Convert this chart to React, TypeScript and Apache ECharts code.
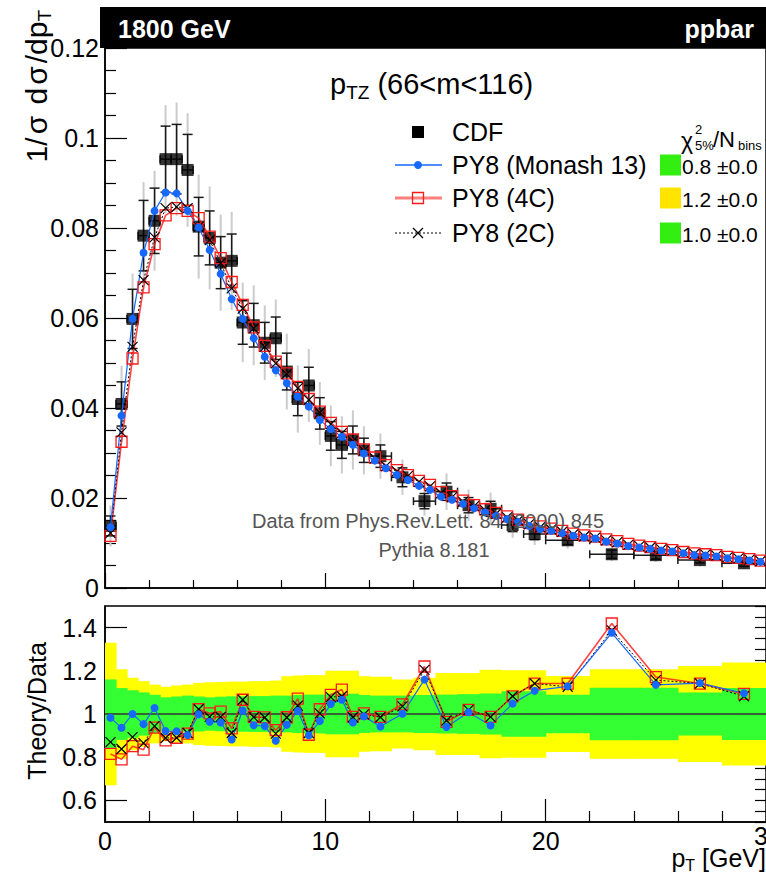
import React, { useEffect, useRef } from "react";
import * as echarts from "echarts";

const FF = "'Liberation Sans', Arial, Helvetica, sans-serif";

// CDF data binning (GeV)
const dataBinEdges = [
  0, 0.5, 1, 1.5, 2, 2.5, 3, 3.5, 4, 4.5, 5, 5.5, 6, 6.5, 7, 7.5, 8, 8.5, 9, 9.5, 10, 10.5, 11, 11.5, 12,
  13, 14, 15, 16, 17, 18, 19, 20, 22, 24, 26, 28, 30,
];
// CDF 1/sigma dsigma/dpT
const cdfValues = [
  0.0138, 0.0409, 0.0598, 0.0783, 0.0816, 0.0953, 0.0953, 0.0929, 0.0803, 0.0778, 0.0723, 0.0727,
  0.059, 0.0584, 0.0545, 0.0555, 0.0481, 0.042, 0.045, 0.0388, 0.0338, 0.0318, 0.0329, 0.0306,
  0.0293, 0.0246, 0.0193, 0.0214, 0.0184, 0.0176, 0.014, 0.012,
  0.0106, 0.0075, 0.0073, 0.0062, 0.0055,
];
// relative uncertainty bands (half widths) per data bin
const greenBand = [
  0.16, 0.12, 0.11, 0.1, 0.089, 0.077, 0.081, 0.085, 0.081, 0.077, 0.08, 0.082,
  0.082, 0.083, 0.083, 0.085, 0.085, 0.088, 0.09, 0.09, 0.094, 0.094, 0.094, 0.088,
  0.085, 0.085, 0.088, 0.09, 0.092, 0.095, 0.105, 0.105,
  0.089, 0.121, 0.121, 0.1, 0.12,
];
const yellowBand = [
  0.33, 0.207, 0.168, 0.152, 0.136, 0.126, 0.132, 0.136, 0.144, 0.147, 0.148, 0.15,
  0.15, 0.152, 0.152, 0.155, 0.175, 0.178, 0.18, 0.18, 0.2, 0.2, 0.2, 0.175,
  0.172, 0.16, 0.168, 0.19, 0.19, 0.205, 0.202, 0.202,
  0.176, 0.207, 0.207, 0.222, 0.238,
];

// MC binning: 0.5 GeV bins from 0 to 30
const mcBinWidth = 0.5;
const mcBinCount = 60;
const monashValues = [
  0.0135, 0.0383, 0.0598, 0.0745, 0.0838, 0.0879, 0.0877, 0.0838, 0.0801, 0.0751,
  0.0698, 0.0642, 0.0598, 0.0555, 0.0514, 0.0484, 0.0455, 0.0425, 0.0403, 0.0373,
  0.0353, 0.0336, 0.0318, 0.0299, 0.0283, 0.0266, 0.0251, 0.024, 0.0227, 0.0218,
  0.0203, 0.0196, 0.0187, 0.0177, 0.0168, 0.016, 0.0153, 0.0147, 0.0138, 0.0131,
  0.0127, 0.0122, 0.0116, 0.0112, 0.011, 0.0103, 0.0099, 0.0093, 0.009, 0.0087,
  0.0083, 0.0081, 0.0077, 0.0073, 0.0072, 0.007, 0.0066, 0.0064, 0.0061, 0.0058,
];
const tune4CValues = [
  0.0116, 0.0325, 0.051, 0.0668, 0.0764, 0.0828, 0.0844, 0.0838, 0.0822, 0.0781,
  0.0733, 0.068, 0.0629, 0.0579, 0.0538, 0.0503, 0.0477, 0.0447, 0.042, 0.0392,
  0.0367, 0.0347, 0.033, 0.0308, 0.029, 0.0273, 0.0262, 0.0251, 0.0238, 0.0229,
  0.0213, 0.0204, 0.0194, 0.0184, 0.0175, 0.0167, 0.0159, 0.0152, 0.0144, 0.0137,
  0.0132, 0.0127, 0.0121, 0.0117, 0.0114, 0.0108, 0.0104, 0.0098, 0.0094, 0.0091,
  0.0087, 0.0084, 0.008, 0.0077, 0.0075, 0.0073, 0.0069, 0.0067, 0.0064, 0.0061,
];
const tune2CValues = [
  0.0122, 0.0346, 0.0536, 0.0684, 0.0779, 0.0844, 0.0847, 0.0844, 0.0803, 0.0773,
  0.0722, 0.0666, 0.0621, 0.0577, 0.0536, 0.0499, 0.0476, 0.0444, 0.0418, 0.039,
  0.0364, 0.0344, 0.0327, 0.0306, 0.0288, 0.0271, 0.0259, 0.0249, 0.0236, 0.0226,
  0.0211, 0.0202, 0.0192, 0.0182, 0.0173, 0.0165, 0.0157, 0.015, 0.0142, 0.0135,
  0.013, 0.0125, 0.0119, 0.0115, 0.0112, 0.0106, 0.0102, 0.0096, 0.0093, 0.009,
  0.0086, 0.0083, 0.0079, 0.0076, 0.0074, 0.0072, 0.0068, 0.0066, 0.0063, 0.006,
];

// Theory / Data per data bin
const ratioMonash = [
  0.983, 0.936, 1.0, 0.953, 1.028, 0.921, 0.92, 0.903, 0.999, 0.964, 0.961, 0.882,
  1.016, 0.948, 0.944, 0.876, 0.95, 1.014, 0.901, 0.968, 1.046, 1.066, 0.961, 0.989,
  0.942, 1.001, 1.159, 0.94, 1.008, 0.947, 1.048, 1.108,
  1.128, 1.376, 1.135, 1.143, 1.096,
];
const ratio4C = [
  0.815, 0.79, 0.851, 0.835, 0.937, 0.878, 0.89, 0.909, 1.022, 1.003, 1.011, 0.933,
  1.066, 0.987, 0.984, 0.925, 0.985, 1.071, 0.904, 1.022, 1.089, 1.113, 0.987, 1.003,
  0.987, 1.045, 1.22, 0.964, 1.019, 0.987, 1.082, 1.141,
  1.141, 1.419, 1.171, 1.141, 1.093,
];
const ratio2C = [
  0.87, 0.838, 0.893, 0.865, 0.944, 0.889, 0.89, 0.912, 1.022, 0.987, 0.987, 0.912,
  1.066, 0.985, 0.984, 0.909, 0.984, 1.038, 0.912, 1.003, 1.078, 1.082, 0.985, 0.998,
  0.985, 1.035, 1.204, 0.97, 1.019, 0.987, 1.082, 1.141,
  1.126, 1.387, 1.157, 1.141, 1.082,
];

const seriesNames = ["CDF", "PY8 (Monash 13)", "PY8 (4C)", "PY8 (2C)"];
const chi2Values = ["0.8 ±0.0", "1.2 ±0.0", "1.0 ±0.0"];
const xTickLabels = [0, 10, 20];
const xLastTickLabel = 30;

const BLUE = "#1668ff";
const RED = "#ff1a1a";
const GREEN = "#33ff33";
const YELLOW = "#ffff00";
const XPATH = "path://M0,0L10,10M10,0L0,10";

export default function App() {
  const ref = useRef<HTMLDivElement>(null);

  useEffect(() => {
    if (!ref.current) return;
    const chart = echarts.init(ref.current, undefined, { renderer: "svg" });

    const dataCenters = cdfValues.map((_, i) => (dataBinEdges[i] + dataBinEdges[i + 1]) / 2);
    const dataHalf = cdfValues.map((_, i) => (dataBinEdges[i + 1] - dataBinEdges[i]) / 2);
    const mcCenters = Array.from({ length: mcBinCount }, (_, i) => (i + 0.5) * mcBinWidth);

    const pairs = (xs: number[], ys: number[]) => ys.map((y, i) => [xs[i], y]);

    const errItems = cdfValues.map((v, i) => [dataCenters[i], v, dataHalf[i], greenBand[i] * v, yellowBand[i] * v]);

    const bandSeries = (band: number[], color: string) => ({
      type: "custom",
      xAxisIndex: 1,
      yAxisIndex: 1,
      silent: true,
      encode: { x: [0, 1], y: 2 },
      data: band.map((h, i) => [dataBinEdges[i], dataBinEdges[i + 1], h]),
      renderItem: (_p: any, api: any) => {
        const a = api.coord([api.value(0), 1 + api.value(2)]);
        const b = api.coord([api.value(1), 1 - api.value(2)]);
        return {
          type: "rect",
          shape: { x: a[0], y: a[1], width: b[0] - a[0] + 0.6, height: b[1] - a[1] },
          style: { fill: color },
        };
      },
    });

    const axisLineStyle = { color: "#000", width: 1.5 };
    const labelStyle = { color: "#000", fontSize: 25, fontFamily: FF };

    const mcLine = (name: string, xs: number[], ys: number[], kind: string, xi: number, yi: number) => {
      const base: any = {
        type: "line",
        name,
        xAxisIndex: xi,
        yAxisIndex: yi,
        data: pairs(xs, ys),
        showAllSymbol: true,
        silent: true,
      };
      if (kind === "monash") {
        base.symbol = "circle";
        base.symbolSize = 8;
        base.itemStyle = { color: BLUE };
        base.lineStyle = { color: BLUE, width: 1.2 };
      } else if (kind === "4c") {
        base.symbol = "rect";
        base.symbolSize = 11;
        base.itemStyle = { color: "rgba(0,0,0,0)", borderColor: RED, borderWidth: 1.3 };
        base.lineStyle = { color: "rgba(255,20,20,0.8)", width: 1.6 };
      } else {
        base.symbol = XPATH;
        base.symbolSize = 10;
        base.itemStyle = { color: "rgba(0,0,0,0)", borderColor: "#000", borderWidth: 1.2 };
        base.lineStyle = { color: "#000", width: 1, type: [2, 2] };
      }
      return base;
    };

    const legendY = [132, 165, 198, 233];
    const gfx: any[] = [
      // banner
      { type: "rect", z: 100, shape: { x: 100, y: 7, width: 670, height: 41 }, style: { fill: "#000" } },
      { type: "text", z: 101, x: 118, y: 29, style: { text: "1800 GeV", fill: "#fff", fontSize: 25, fontWeight: "bold", fontFamily: FF, verticalAlign: "middle" } },
      { type: "text", z: 101, x: 754, y: 29, style: { text: "ppbar", fill: "#fff", fontSize: 25, fontWeight: "bold", fontFamily: FF, align: "right", verticalAlign: "middle" } },
      // title
      {
        type: "text", z: 50, x: 330, y: 84,
        style: {
          text: "{a|p}{s|TZ}{a| (66<m<116)}", verticalAlign: "middle", fill: "#000",
          rich: {
            a: { fontSize: 29, fontFamily: FF, fill: "#000" },
            s: { fontSize: 19, fontFamily: FF, fill: "#000", padding: [16, 0, 0, 0] },
          },
        },
      },
      // y axis title (main)
      {
        type: "text", z: 50, x: 36, y: 10, rotation: Math.PI / 2,
        style: {
          text: "{a|1/}{g|σ}{a| d}{g|σ}{a|/dp}{s|T}", align: "right", verticalAlign: "middle", fill: "#000",
          rich: {
            a: { fontSize: 30, fontFamily: FF, fill: "#000" },
            g: { fontSize: 30, fontFamily: FF, fill: "#000", padding: [0, 3, 0, 3] },
            s: { fontSize: 19, fontFamily: FF, fill: "#000", padding: [17, 0, 0, 0] },
          },
        },
      },
      // y axis title (ratio)
      {
        type: "text", z: 50, x: 37, y: 711, rotation: Math.PI / 2,
        style: { text: "Theory/Data", align: "center", verticalAlign: "middle", fill: "#000", fontSize: 25, fontFamily: FF },
      },
      // x axis title
      {
        type: "text", z: 50, x: 766, y: 858,
        style: {
          text: "{a|p}{s|T}{a| [GeV]}", align: "right", verticalAlign: "middle", fill: "#000",
          rich: {
            a: { fontSize: 25, fontFamily: FF, fill: "#000" },
            s: { fontSize: 16, fontFamily: FF, fill: "#000", padding: [14, 0, 0, 0] },
          },
        },
      },
      // last x tick label, clipped by the page edge as in the reference
      { type: "text", z: 50, x: 768, y: 836, style: { text: String(xLastTickLabel), fill: "#000", fontSize: 25, fontFamily: FF, align: "center", verticalAlign: "middle" } },
      // source texts
      { type: "text", z: 50, x: 428, y: 521, style: { text: "Data from Phys.Rev.Lett. 84 (2000) 845", fill: "#555", fontSize: 20, fontFamily: FF, align: "center", verticalAlign: "middle" } },
      { type: "text", z: 50, x: 434, y: 550, style: { text: "Pythia 8.181", fill: "#555", fontSize: 20, fontFamily: FF, align: "center", verticalAlign: "middle" } },
      // legend markers
      { type: "rect", z: 50, shape: { x: 412, y: legendY[0] - 6, width: 12, height: 12 }, style: { fill: "#000" } },
      { type: "line", z: 50, shape: { x1: 395, y1: legendY[1], x2: 442, y2: legendY[1] }, style: { stroke: BLUE, lineWidth: 1.5 } },
      { type: "circle", z: 51, shape: { cx: 418, cy: legendY[1], r: 4 }, style: { fill: BLUE } },
      { type: "line", z: 50, shape: { x1: 395, y1: legendY[2], x2: 442, y2: legendY[2] }, style: { stroke: "rgba(255,40,40,0.6)", lineWidth: 3 } },
      { type: "rect", z: 51, shape: { x: 412.5, y: legendY[2] - 5.5, width: 11, height: 11 }, style: { fill: "none", stroke: RED, lineWidth: 1.3 } },
      { type: "line", z: 50, shape: { x1: 395, y1: legendY[3], x2: 442, y2: legendY[3] }, style: { stroke: "#000", lineWidth: 1, lineDash: [2, 2] } },
      { type: "line", z: 51, shape: { x1: 413, y1: legendY[3] - 5, x2: 423, y2: legendY[3] + 5 }, style: { stroke: "#000", lineWidth: 1.2 } },
      { type: "line", z: 51, shape: { x1: 423, y1: legendY[3] - 5, x2: 413, y2: legendY[3] + 5 }, style: { stroke: "#000", lineWidth: 1.2 } },
      // chi2 header
      { type: "text", z: 50, x: 681, y: 141, style: { text: "χ", fill: "#000", fontSize: 23, fontFamily: FF, verticalAlign: "middle" } },
      { type: "text", z: 50, x: 695, y: 129, style: { text: "2", fill: "#000", fontSize: 13, fontFamily: FF, verticalAlign: "middle" } },
      { type: "text", z: 50, x: 695, y: 145, style: { text: "5%", fill: "#000", fontSize: 13, fontFamily: FF, verticalAlign: "middle" } },
      { type: "text", z: 50, x: 713, y: 139, style: { text: "/N", fill: "#000", fontSize: 22, fontFamily: FF, verticalAlign: "middle" } },
      { type: "text", z: 50, x: 738, y: 145, style: { text: "bins", fill: "#000", fontSize: 13, fontFamily: FF, verticalAlign: "middle" } },
    ];
    seriesNames.forEach((n, i) => {
      gfx.push({ type: "text", z: 50, x: 452, y: legendY[i], style: { text: n, fill: "#000", fontSize: 25, fontFamily: FF, verticalAlign: "middle" } });
    });
    const boxColors = ["#33ee11", "#ffe400", "#33ee11"];
    chi2Values.forEach((t, i) => {
      const cy = legendY[i + 1];
      gfx.push({ type: "rect", z: 50, shape: { x: 660, y: cy - 10.5, width: 21, height: 21 }, style: { fill: boxColors[i] } });
      gfx.push({ type: "text", z: 50, x: 682, y: cy + 1, style: { text: t, fill: "#000", fontSize: 21, fontFamily: FF, verticalAlign: "middle" } });
    });

    const option: any = {
      animation: false,
      backgroundColor: "#fff",
      grid: [
        { left: 105, top: 48, width: 663, height: 540, show: true, borderColor: "#000", borderWidth: 1.5, backgroundColor: "transparent" },
        { left: 105, top: 606, width: 663, height: 216, show: true, borderColor: "#000", borderWidth: 1.5, backgroundColor: "transparent" },
      ],
      xAxis: [
        {
          gridIndex: 0, type: "value", min: 0, max: 30, interval: 10,
          axisLine: { lineStyle: axisLineStyle },
          axisTick: { inside: true, length: 15, lineStyle: { color: "#000", width: 1.2 } },
          minorTick: { show: true, splitNumber: 5, length: 8, lineStyle: { color: "#000", width: 1.2 } },
          axisLabel: { show: false },
          splitLine: { show: false },
        },
        {
          gridIndex: 1, type: "value", min: 0, max: 30, interval: 10,
          axisLine: { lineStyle: axisLineStyle },
          axisTick: { inside: true, length: 23, lineStyle: { color: "#000", width: 1.2 } },
          minorTick: { show: true, splitNumber: 5, length: 11, lineStyle: { color: "#000", width: 1.2 } },
          axisLabel: { ...labelStyle, margin: 6, customValues: xTickLabels },
          splitLine: { show: false },
        },
      ],
      yAxis: [
        {
          gridIndex: 0, type: "value", min: 0, max: 0.12, interval: 0.02,
          axisLine: { lineStyle: axisLineStyle },
          axisTick: { inside: true, length: 22, lineStyle: { color: "#000", width: 1.2 } },
          minorTick: { show: true, splitNumber: 4, length: 11, lineStyle: { color: "#000", width: 1.2 } },
          axisLabel: { ...labelStyle, margin: 6 },
          splitLine: { show: false },
        },
        {
          gridIndex: 1, type: "value", min: 0.5, max: 1.5, interval: 0.1,
          axisLine: { lineStyle: axisLineStyle },
          axisTick: { inside: true, length: 22, customValues: [0.6, 0.8, 1, 1.2, 1.4], lineStyle: { color: "#000", width: 1.2 } },
          axisLabel: { ...labelStyle, margin: 8, customValues: [0.6, 0.8, 1, 1.2, 1.4] },
          splitLine: { show: false },
        },
        {
          gridIndex: 1, type: "value", min: 0.5, max: 1.5, interval: 0.05,
          axisLine: { show: false },
          axisTick: { inside: true, length: 11, lineStyle: { color: "#000", width: 1.2 } },
          axisLabel: { show: false },
          splitLine: { show: false },
        },
      ],
      graphic: gfx,
      series: [
        {
          type: "custom",
          xAxisIndex: 0,
          yAxisIndex: 0,
          silent: true,
          encode: { x: 0, y: 1 },
          data: errItems,
          renderItem: (_p: any, api: any) => {
            const x = api.value(0), y = api.value(1), hw = api.value(2), es = api.value(3), et = api.value(4);
            const c = api.coord([x, y]);
            const l = api.coord([x - hw, y]);
            const r = api.coord([x + hw, y]);
            const gt = api.coord([x, y + et]);
            const gb = api.coord([x, y - et]);
            const bt = api.coord([x, y + es]);
            const bb = api.coord([x, y - es]);
            const grey = { stroke: "#cccccc", lineWidth: 2 };
            const blk = { stroke: "#1a1a1a", lineWidth: 1.5 };
            return {
              type: "group",
              children: [
                { type: "line", shape: { x1: c[0], y1: gt[1], x2: c[0], y2: gb[1] }, style: grey },
                { type: "line", shape: { x1: c[0], y1: bt[1], x2: c[0], y2: bb[1] }, style: blk },
                { type: "line", shape: { x1: c[0] - 5, y1: bt[1], x2: c[0] + 5, y2: bt[1] }, style: blk },
                { type: "line", shape: { x1: c[0] - 5, y1: bb[1], x2: c[0] + 5, y2: bb[1] }, style: blk },
                { type: "line", shape: { x1: l[0], y1: c[1], x2: r[0], y2: c[1] }, style: blk },
                { type: "line", shape: { x1: l[0], y1: c[1] - 4, x2: l[0], y2: c[1] + 4 }, style: blk },
                { type: "line", shape: { x1: r[0], y1: c[1] - 4, x2: r[0], y2: c[1] + 4 }, style: blk },
              ],
            };
          },
        },
        {
          type: "scatter",
          name: "CDF",
          xAxisIndex: 0,
          yAxisIndex: 0,
          symbol: "rect",
          symbolSize: 12,
          itemStyle: { color: "#000" },
          silent: true,
          data: pairs(dataCenters, cdfValues),
        },
        mcLine("PY8 (4C)", mcCenters, tune4CValues, "4c", 0, 0),
        mcLine("PY8 (2C)", mcCenters, tune2CValues, "2c", 0, 0),
        mcLine("PY8 (Monash 13)", mcCenters, monashValues, "monash", 0, 0),
        bandSeries(yellowBand, YELLOW),
        bandSeries(greenBand, GREEN),
        {
          type: "line",
          xAxisIndex: 1,
          yAxisIndex: 1,
          silent: true,
          symbol: "none",
          lineStyle: { color: "#333", width: 1.5 },
          data: [[0, 1], [30, 1]],
        },
        mcLine("PY8 (4C)", dataCenters, ratio4C, "4c", 1, 1),
        mcLine("PY8 (2C)", dataCenters, ratio2C, "2c", 1, 1),
        mcLine("PY8 (Monash 13)", dataCenters, ratioMonash, "monash", 1, 1),
      ],
    };

    chart.setOption(option);
    return () => chart.dispose();
  }, []);

  return (
    <div
      ref={ref}
      style={{ position: "absolute", left: 0, top: 0, width: 766, height: 879, background: "#fff" }}
    />
  );
}
